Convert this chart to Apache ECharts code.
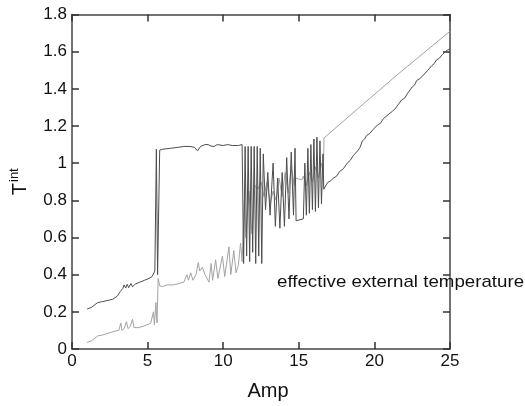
<!DOCTYPE html>
<html>
<head>
<meta charset="utf-8">
<script src="https://cdn.jsdelivr.net/npm/echarts@6/dist/echarts.min.js"></script>
<style>html,body{margin:0;padding:0;background:#fff}#c{width:525px;height:406px}</style>
</head>
<body>
<div id="c"></div>
<script>
// x ticks and y ticks
var xTicks = [0, 5, 10, 15, 20, 25];
var yTicks = [0, 0.2, 0.4, 0.6, 0.8, 1, 1.2, 1.4, 1.6, 1.8];

// dark series: [Amp, T_int]
var darkSeries = [
[1.0,0.215],[1.3,0.225],[1.7,0.25],[2.0,0.255],[2.4,0.262],[2.7,0.268],[3.0,0.285],[3.2,0.31],[3.35,0.325],
[3.45,0.345],[3.55,0.328],[3.65,0.348],[3.75,0.33],[3.9,0.352],[4.0,0.335],[4.2,0.35],[4.5,0.36],[4.8,0.37],
[5.1,0.38],[5.3,0.39],[5.4,0.395],[5.48,0.42],[5.58,1.075],[5.66,0.40],[5.8,1.07],[6.0,1.075],[6.5,1.08],
[7.0,1.085],[7.4,1.09],[7.8,1.09],[8.1,1.085],[8.3,1.066],[8.5,1.09],[8.8,1.10],[9.0,1.10],[9.2,1.092],
[9.3,1.10],[9.4,1.09],[9.6,1.10],[10.0,1.095],[10.3,1.10],[10.6,1.095],[11.0,1.095],[11.25,1.10],
[11.35,0.46],[11.45,1.09],[11.55,0.50],[11.65,1.09],[11.75,0.47],[11.85,1.09],[11.95,0.52],[12.05,1.09],
[12.15,0.46],[12.25,1.09],[12.35,0.50],[12.45,1.08],[12.55,0.46],[12.65,1.05],
[12.8,0.75],[12.95,0.95],[13.1,0.72],[13.3,1.0],[13.45,0.66],[13.6,0.92],[13.75,0.65],[13.9,0.95],
[14.05,0.66],[14.2,1.03],[14.35,0.70],[14.5,1.06],[14.65,0.72],[14.75,1.08],[14.82,0.69],[15.3,0.70],
[15.4,1.0],[15.5,0.72],[15.6,1.08],[15.7,0.73],[15.8,1.10],[15.9,0.75],[16.0,1.13],[16.1,0.74],
[16.2,1.14],[16.3,0.76],[16.4,1.12],[16.5,0.78],[16.6,1.05],[16.65,0.86],
[16.9,0.895],[17.1,0.905],[17.3,0.92],[17.5,0.93],[17.7,0.955],[17.95,0.97],[18.2,1.0],[18.4,1.015],
[18.6,1.04],[18.9,1.067],[19.05,1.085],[19.2,1.12],[19.35,1.13],[19.5,1.15],[19.7,1.16],[19.9,1.18],
[20.2,1.205],[20.4,1.215],[20.6,1.24],[20.9,1.26],[21.2,1.28],[21.35,1.29],[21.5,1.307],[21.8,1.34],
[22.0,1.35],[22.2,1.376],[22.5,1.41],[22.65,1.42],[22.8,1.445],[23.0,1.455],[23.2,1.47],[23.5,1.497],
[23.8,1.525],[23.95,1.535],[24.1,1.555],[24.3,1.565],[24.5,1.585],[24.8,1.607],[25.0,1.615]
];

// light series: [Amp, T_int]
var lightSeries = [
[1.0,0.035],[1.3,0.045],[1.7,0.07],[2.0,0.075],[2.4,0.085],[2.8,0.095],[3.1,0.10],[3.23,0.14],[3.3,0.10],
[3.45,0.11],[3.6,0.147],[3.7,0.11],[3.85,0.12],[4.0,0.16],[4.1,0.115],[4.4,0.115],[4.8,0.125],[5.2,0.138],
[5.3,0.14],[5.39,0.20],[5.45,0.13],[5.55,0.25],[5.62,0.14],[5.7,0.38],[5.8,0.34],[5.98,0.336],[6.3,0.345],
[6.7,0.345],[7.0,0.35],[7.4,0.36],[7.6,0.40],[7.7,0.37],[7.85,0.41],[8.0,0.37],[8.2,0.40],[8.35,0.465],
[8.45,0.42],[8.62,0.44],[8.8,0.40],[9.06,0.36],[9.2,0.46],[9.3,0.37],[9.5,0.48],[9.65,0.38],[9.95,0.50],
[10.1,0.39],[10.38,0.55],[10.5,0.40],[10.7,0.53],[10.85,0.41],[11.0,0.45],[11.15,0.57],[11.25,0.47],
[11.4,0.80],[11.5,0.60],[11.7,0.85],[11.9,0.62],[12.1,0.88],[12.3,0.86],[12.5,0.90],[12.7,0.82],
[12.9,0.90],[13.1,0.78],[13.3,0.85],[13.5,0.80],[13.7,0.92],[13.9,0.82],[14.1,0.95],[14.3,0.84],
[14.5,0.98],[14.7,0.88],[14.8,0.92],[15.2,0.91],[15.3,0.93],[15.5,0.88],[15.7,0.95],[15.9,0.90],
[16.1,0.98],[16.3,0.92],[16.5,1.0],[16.62,0.95],[16.67,1.136],[21.5,1.475],[25.0,1.71]
];

var chart = echarts.init(document.getElementById('c'));
var axisCol = '#444';
var font = 'Liberation Sans, Arial, sans-serif';
function xAx(pos, show) {
  return {
    type: 'value', position: pos, min: 0, max: 25, interval: 5,
    axisLine: {show: true, onZero: false, lineStyle: {color: axisCol, width: 1.5}},
    axisTick: {show: true, inside: true, length: 7, lineStyle: {color: '#333', width: 1.5}},
    axisLabel: {show: show, color: '#111', fontSize: 17, fontFamily: font, margin: 4},
    splitLine: {show: false},
    name: show ? 'Amp' : '', nameLocation: 'middle', nameGap: 32,
    nameTextStyle: {color: '#111', fontSize: 20, fontFamily: font, padding: [0,0,0,14]}
  };
}
function yAx(pos, show) {
  return {
    type: 'value', position: pos, min: 0, max: 1.8, interval: 0.2,
    axisLine: {show: true, onZero: false, lineStyle: {color: axisCol, width: 1.5}},
    axisTick: {show: true, inside: true, length: 7, lineStyle: {color: '#333', width: 1.5}},
    axisLabel: {show: show, color: '#111', fontSize: 17, fontFamily: font, margin: 5,
      formatter: function (v) { return String(Math.round(v * 10) / 10); }},
    splitLine: {show: false},
    name: show ? '{t|T}{s|int}' : '', nameLocation: 'middle', nameGap: 40, nameRotate: 90,
    nameTextStyle: {color: '#111', fontFamily: font,
      rich: {t: {fontSize: 20, fontFamily: font, color: '#111'},
             s: {fontSize: 13, fontFamily: font, color: '#111', padding: [0, 0, 11, 1]}}}
  };
}
chart.setOption({
  animation: false,
  backgroundColor: '#fff',
  grid: {left: 71, right: 75, top: 14.5, bottom: 42.5},
  xAxis: [xAx('bottom', true), xAx('top', false)],
  yAxis: [yAx('left', true), yAx('right', false)],
  graphic: [{
    type: 'text', x: 277, y: 282, z: 100, scaleX: 1.1,
    style: {text: 'effective external temperature', fill: '#111', fontSize: 17, fontFamily: font,
            verticalAlign: 'middle', align: 'left'}
  }],
  series: [
    {type: 'line', data: lightSeries, showSymbol: false, symbol: 'none',
     lineStyle: {color: '#a3a3a3', width: 1}},
    {type: 'line', data: darkSeries, showSymbol: false, symbol: 'none',
     lineStyle: {color: '#4d4d4d', width: 1}}
  ]
});
</script>
</body>
</html>
